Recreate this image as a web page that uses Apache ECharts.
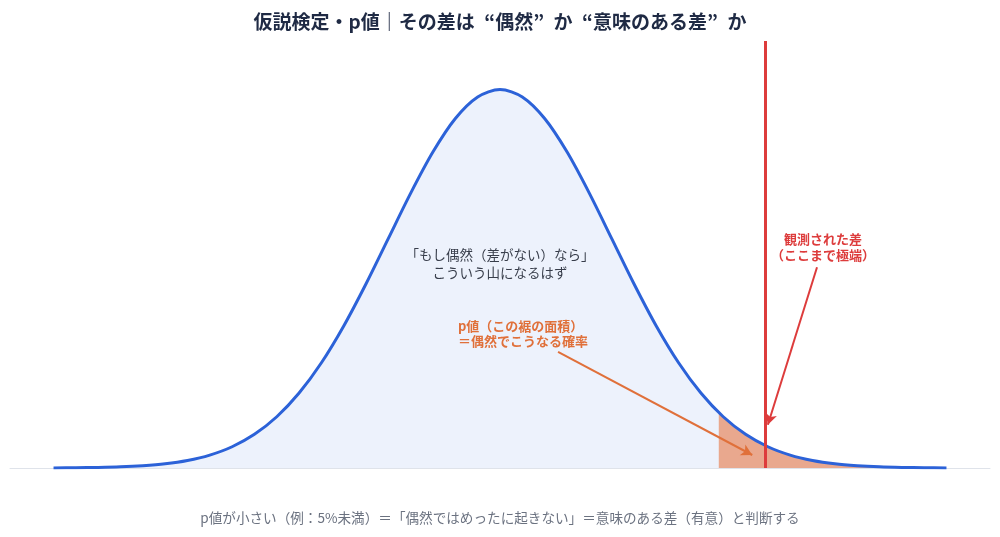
<!DOCTYPE html>
<html>
<head>
<meta charset="utf-8">
<script src="https://cdn.jsdelivr.net/npm/echarts@6/dist/echarts.min.js"></script>
<style>
  html, body { margin: 0; padding: 0; background: #fff; }
  #chart { width: 1000px; height: 537px; }
</style>
</head>
<body>
<div id="chart"></div>
<script>
// 標準正規分布の山
const xs = [-4.0, -3.8, -3.6, -3.4, -3.2, -3.0, -2.8, -2.6, -2.4, -2.2, -2.0, -1.8, -1.6, -1.4, -1.2, -1.0, -0.8, -0.6, -0.4, -0.2,
  0.0, 0.2, 0.4, 0.6, 0.8, 1.0, 1.2, 1.4, 1.6, 1.8, 2.0, 2.2, 2.4, 2.6, 2.8, 3.0, 3.2, 3.4, 3.6, 3.8, 4.0];
const density = [0.0001, 0.0003, 0.0006, 0.0012, 0.0024, 0.0044, 0.0079, 0.0136, 0.0224, 0.0355, 0.0540, 0.0790, 0.1109, 0.1497, 0.1942, 0.2420, 0.2897, 0.3332, 0.3683, 0.3910,
  0.3989, 0.3910, 0.3683, 0.3332, 0.2897, 0.2420, 0.1942, 0.1497, 0.1109, 0.0790, 0.0540, 0.0355, 0.0224, 0.0136, 0.0079, 0.0044, 0.0024, 0.0012, 0.0006, 0.0003, 0.0001];

// 右裾（p値の面積）
const tailX = [1.96, 2.0, 2.2, 2.4, 2.6, 2.8, 3.0, 3.2, 3.4, 3.6, 3.8, 4.0];
const tailY = [0.0584, 0.0540, 0.0355, 0.0224, 0.0136, 0.0079, 0.0044, 0.0024, 0.0012, 0.0006, 0.0003, 0.0001];

// 観測された差
const observed = 2.38;

// 矢印 [始点, 終点]
const pArrow = [[0.52, 0.1225], [2.26, 0.0137]];
const obsArrow = [[2.84, 0.2115], [2.40, 0.0455]];

const curve = xs.map((x, i) => [x, density[i]]);
const tail = tailX.map((x, i) => [x, tailY[i]]);

const chart = echarts.init(document.getElementById('chart'));
const font = '"Noto Sans CJK JP", "Noto Sans", sans-serif';

const option = {
  animation: false,
  title: {
    text: '仮説検定・p値｜その差は\u2002“偶然”\u2002か\u2002“意味のある差”\u2002か',
    left: 'center',
    top: 7,
    textStyle: { color: '#1f2a44', fontSize: 19, fontWeight: 'bold', fontFamily: font }
  },
  grid: { left: 10, right: 10, top: 41, bottom: 69 },
  xAxis: {
    type: 'value',
    min: -4.39,
    max: 4.39,
    axisLine: { show: true, lineStyle: { color: '#dfe3ea', width: 1 } },
    axisTick: { show: false },
    axisLabel: { show: false },
    splitLine: { show: false }
  },
  yAxis: {
    type: 'value',
    min: 0,
    max: 0.45,
    show: false
  },
  series: [
    {
      // 山の塗り
      type: 'line',
      data: curve,
      smooth: 0.3,
      symbol: 'none',
      lineStyle: { width: 0 },
      areaStyle: { color: '#edf2fc', opacity: 1 },
      z: 1
    },
    {
      // 右裾の面積
      type: 'line',
      data: tail,
      smooth: 0.3,
      symbol: 'none',
      lineStyle: { width: 0 },
      areaStyle: { color: '#e9a88e', opacity: 1 },
      z: 2
    },
    {
      // 山の線
      type: 'line',
      data: curve,
      smooth: 0.3,
      symbol: 'none',
      lineStyle: { color: '#2c62d8', width: 3 },
      z: 3,
      markLine: {
        silent: true,
        symbol: ['none', 'none'],
        label: { show: false },
        lineStyle: { color: '#dd3c3c', width: 3, type: 'solid' },
        data: [{ xAxis: observed }]
      }
    },
    {
      // 矢印
      type: 'line',
      data: [],
      z: 5,
      markLine: {
        silent: true,
        symbol: ['none', 'arrow'],
        symbolSize: [9, 11],
        label: { show: false },
        data: [
          [
            { coord: pArrow[0], lineStyle: { color: '#e0703a', width: 2, type: 'solid' } },
            { coord: pArrow[1] }
          ],
          [
            { coord: obsArrow[0], lineStyle: { color: '#dd3c3c', width: 2, type: 'solid' } },
            { coord: obsArrow[1] }
          ]
        ]
      }
    }
  ],
  graphic: [
    {
      type: 'text',
      left: 'center',
      top: 246,
      z: 100,
      style: {
        text: '「もし偶然（差がない）なら」\nこういう山になるはず',
        fill: '#383e4b',
        font: '13.5px ' + font,
        textAlign: 'center',
        lineHeight: 18
      }
    },
    {
      type: 'text',
      left: 458,
      top: 319,
      z: 100,
      style: {
        text: 'p値（この裾の面積）\n＝偶然でこうなる確率',
        fill: '#e0703a',
        font: 'bold 13px ' + font,
        textAlign: 'left',
        lineHeight: 15
      }
    },
    {
      type: 'text',
      left: 771,
      top: 231,
      z: 100,
      style: {
        text: '観測された差\n（ここまで極端）',
        fill: '#dd3c3c',
        font: 'bold 13px ' + font,
        textAlign: 'center',
        lineHeight: 16
      }
    },
    {
      type: 'text',
      left: 'center',
      top: 511,
      z: 100,
      style: {
        text: 'p値が小さい（例：5%未満）＝「偶然ではめったに起きない」＝意味のある差（有意）と判断する',
        fill: '#6b7280',
        font: '13.6px ' + font
      }
    }
  ]
};

chart.setOption(option);
</script>
</body>
</html>
